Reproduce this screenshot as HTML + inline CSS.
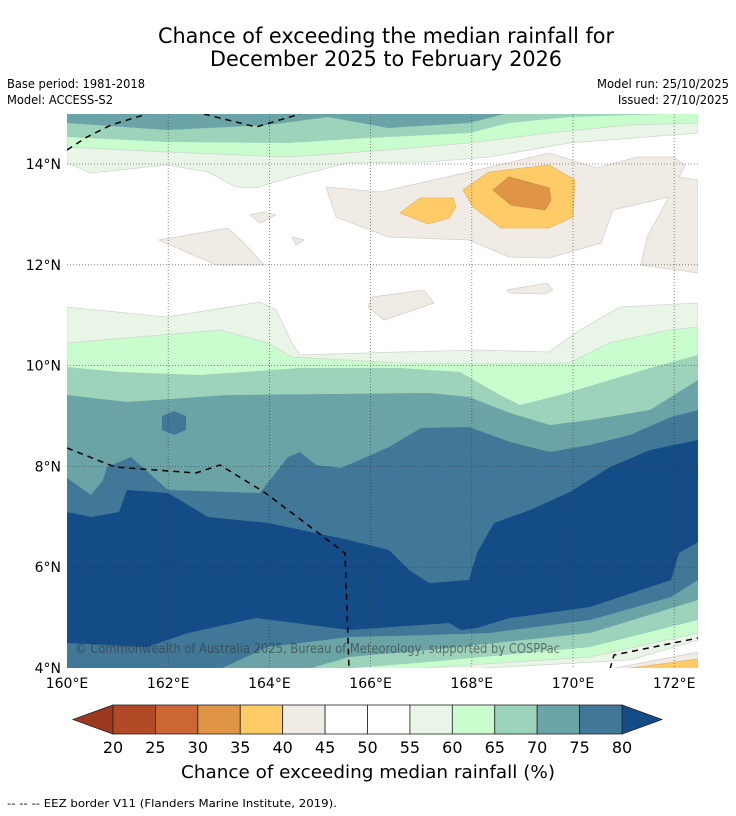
<!DOCTYPE html>
<html><head><meta charset="utf-8">
<style>
html,body{margin:0;padding:0;background:#fff;}
svg{display:block;font-family:"DejaVu Sans","Liberation Sans",sans-serif;}
</style></head>
<body>
<svg id="root" width="736" height="816" viewBox="0 0 736 816" xmlns="http://www.w3.org/2000/svg">
<text x="386" y="43" font-size="21" text-anchor="middle" textLength="456" lengthAdjust="spacingAndGlyphs" fill="#000">Chance of exceeding the median rainfall for</text>
<text x="386" y="66" font-size="21" text-anchor="middle" textLength="352" lengthAdjust="spacingAndGlyphs" fill="#000">December 2025 to February 2026</text>
<text x="7" y="88" font-size="12" textLength="138" lengthAdjust="spacingAndGlyphs">Base period: 1981-2018</text>
<text x="7" y="104" font-size="12" textLength="106" lengthAdjust="spacingAndGlyphs">Model: ACCESS-S2</text>
<text x="729" y="88" font-size="12" text-anchor="end" textLength="132" lengthAdjust="spacingAndGlyphs">Model run: 25/10/2025</text>
<text x="729" y="104" font-size="12" text-anchor="end" textLength="111" lengthAdjust="spacingAndGlyphs">Issued: 27/10/2025</text>
<defs><clipPath id="mapclip"><rect x="67" y="114" width="631" height="554"/></clipPath></defs>
<g id="map" clip-path="url(#mapclip)"></g>
<g id="axes"></g>
<g id="cbar"></g>
<text x="368" y="778" font-size="18" text-anchor="middle" textLength="374" lengthAdjust="spacingAndGlyphs">Chance of exceeding median rainfall (%)</text>
<text x="7" y="807" font-size="11" textLength="330" lengthAdjust="spacingAndGlyphs">--  --  -- EEZ border V11 (Flanders Marine Institute, 2019).</text>
</svg>
<script>
// colour scale data
const levels = [20,25,30,35,40,45,50,55,60,65,70,75,80];
const binColors = ["#b34a27","#cc6633","#e09445","#fecb66","#f0ebe5","#ffffff","#ffffff","#e9f5e7","#c9fdcd","#9dd2bb","#6ba4a6","#417898"];
const underColor = "#9b3a1f";
const overColor = "#134c87";
// axis data
const lonTicks = [160,162,164,166,168,170,172];
const latTicks = [4,6,8,10,12,14];
// contour data (image grid coords)
const top70 = [[67,123],[167,130],[268,125],[328,117],[388,128],[469,123],[509,113]];
const top65 = [[67,137],[167,142],[288,143],[368,138],[469,133],[509,123],[569,117],[698,113]];
const top60 = [[67,147],[167,152],[288,157],[388,150],[469,143],[549,133],[629,125],[698,123]];
const top55 = [[67,163],[91,173],[167,165],[208,172],[236,187],[256,188],[288,178],[348,163],[428,162],[489,157],[569,143],[698,133]];
const up55 = [[67,307],[167,317],[260,302],[276,310],[292,343],[300,355],[400,352],[480,350],[549,352],[580,330],[620,307],[698,303]];
const up60 = [[67,343],[220,330],[268,343],[292,357],[400,363],[480,364],[569,363],[609,343],[669,330],[698,327]];
const up65 = [[67,367],[120,372],[200,375],[300,368],[400,368],[460,372],[500,395],[520,405],[560,395],[610,380],[650,368],[698,355]];
const up70 = [[67,395],[127,402],[228,395],[429,393],[469,397],[510,413],[550,425],[590,420],[650,410],[698,380]];
const up75 = [[67,478],[91,495],[103,480],[107,467],[131,457],[168,490],[260,493],[288,457],[300,452],[316,465],[341,468],[389,447],[421,428],[469,427],[510,442],[550,452],[590,445],[630,435],[671,417],[698,410]];
const up80 = [[67,512],[91,517],[119,512],[127,490],[168,493],[208,517],[268,523],[349,540],[389,550],[409,570],[429,583],[469,580],[477,553],[494,523],[530,510],[570,492],[610,467],[650,450],[698,440]];
const dn80 = [[67,643],[147,647],[188,633],[256,618],[349,630],[449,623],[461,630],[477,628],[510,618],[590,607],[671,580],[679,553],[698,542]];
const dn75 = [[220,669],[268,647],[349,637],[429,635],[489,633],[590,620],[671,597],[698,580]];
const dn70 = [[308,669],[349,657],[429,650],[590,633],[698,600]];
const dn65 = [[341,669],[429,662],[590,647],[698,620]];
const dn60 = [[409,669],[590,657],[698,633]];
const dn55 = [[469,669],[630,660],[698,640]];
const blob75 = [[162,416],[174,411],[186,416],[186,430],[174,435],[162,430]];
const beigeBig = [[326,187],[380,192],[469,172],[549,153],[597,168],[637,157],[673,157],[685,165],[679,177],[698,180],[698,273],[641,265],[647,237],[669,197],[613,210],[601,243],[549,258],[509,257],[469,240],[388,237],[336,217]];
const beigeSmall = [
 [[159,240],[228,228],[244,243],[264,265],[216,265]],
 [[250,215],[264,212],[276,215],[260,223]],
 [[292,237],[304,240],[296,245]],
 [[372,297],[424,290],[434,303],[384,320],[368,307]],
 [[507,290],[547,283],[553,290],[545,294],[509,293]],
 [[610,669],[698,652],[698,669]]
];
const orange35 = [
 [[400,213],[420,198],[453,198],[456,207],[449,218],[428,224]],
 [[463,190],[489,172],[549,165],[575,180],[573,217],[549,228],[501,228],[473,207]],
 [[623,669],[698,659],[698,669]]
];
const orange30 = [[493,190],[509,177],[549,188],[551,200],[545,210],[511,205]];
const eezLines = [
 [[67,150],[87,137],[111,125],[147,114]],
 [[204,114],[256,127],[300,114]],
 [[67,448],[115,467],[196,473],[220,465],[264,492],[345,553],[349,669]],
 [[610,669],[614,655],[698,638]]
];

const NS="http://www.w3.org/2000/svg";
const map=document.getElementById('map');
const axes=document.getElementById('axes');
const cbar=document.getElementById('cbar');
// axis functions
const xLon = lon => 67 + (lon-160)*50.6;
const yLat = lat => 668 - (lat-4)*50.4;
function colorFor(level){ return binColors[levels.indexOf(level)]; }
function pts(a){ return a.map(p=>p[0]+','+p[1]).join(' '); }
function poly(points, fill, name, stroke){
  const p=document.createElementNS(NS,'polygon');
  p.setAttribute('points', pts(points));
  p.setAttribute('fill', fill);
  if(stroke){p.setAttribute('stroke',stroke);p.setAttribute('stroke-width','0.8');}
  
  
  map.appendChild(p);
}
// background
poly([[67,114],[698,114],[698,669],[67,669]], '#ffffff', 'map-background');
const tops = {55:top55,60:top60,65:top65,70:top70};
const ups = {55:up55,60:up60,65:up65,70:up70,75:up75,80:up80};
const dns = {55:dn55,60:dn60,65:dn65,70:dn70,75:dn75,80:dn80};
[55,60,65,70,75,80].forEach(L=>{
  const col = L===80 ? overColor : colorFor(L);
  if(tops[L]) poly(tops[L].concat([[698,113],[67,113]]), col, 'contour-top-'+L, L<=60?'#cfd8cf':null);
  const lower = dns[L].slice().reverse();
  const extra = lower[lower.length-1][0] > 67 ? [[67,669]] : [];
  const first = dns[L][dns[L].length-1][0] >= 698 ? [] : [[698,669]];
  poly(ups[L].concat(first, lower, extra), col, 'contour-band-'+L, L<=60?'#cfd8cf':null);
  if(L===75) poly(blob75, col, 'contour-blob-75');
});
poly(beigeBig, colorFor(40), 'below-normal-area-40', '#d6d0ca');
beigeSmall.forEach((b,i)=>poly(b, colorFor(40), 'below-normal-patch-'+i, '#d6d0ca'));
orange35.forEach((b,i)=>poly(b, colorFor(35), 'below-normal-35-'+i, '#e8b860'));
poly(orange30, colorFor(30), 'below-normal-30', '#d08a40');
// EEZ dashed lines
eezLines.forEach((l,i)=>{
  const pl=document.createElementNS(NS,'polyline');
  pl.setAttribute('points',pts(l));pl.setAttribute('fill','none');
  pl.setAttribute('stroke','#000');pl.setAttribute('stroke-width','1.5');pl.setAttribute('stroke-dasharray','6,5');
  
  
  map.appendChild(pl);
});
// grid lines
lonTicks.forEach(l=>{
  if(l===160) return;
  const ln=document.createElementNS(NS,'line');
  ln.setAttribute('x1',xLon(l));ln.setAttribute('x2',xLon(l));ln.setAttribute('y1',114);ln.setAttribute('y2',668);
  ln.setAttribute('stroke','#333');ln.setAttribute('stroke-width','0.8');ln.setAttribute('stroke-dasharray','1,2');ln.setAttribute('opacity','0.7');
  
  
  map.appendChild(ln);
});
latTicks.forEach(l=>{
  if(l===4) return;
  const ln=document.createElementNS(NS,'line');
  ln.setAttribute('y1',yLat(l));ln.setAttribute('y2',yLat(l));ln.setAttribute('x1',67);ln.setAttribute('x2',698);
  ln.setAttribute('stroke','#333');ln.setAttribute('stroke-width','0.8');ln.setAttribute('stroke-dasharray','1,2');ln.setAttribute('opacity','0.7');
  
  
  map.appendChild(ln);
});
// watermark
const wm=document.createElementNS(NS,'text');
wm.setAttribute('x',75);wm.setAttribute('y',653);wm.setAttribute('font-size','13');wm.setAttribute('fill','#333');wm.setAttribute('opacity','0.6');
wm.setAttribute('textLength','485');wm.setAttribute('lengthAdjust','spacingAndGlyphs');
wm.textContent='© Commonwealth of Australia 2025, Bureau of Meteorology, supported by COSPPac';


map.appendChild(wm);
// tick labels
lonTicks.forEach(l=>{
  const t=document.createElementNS(NS,'text');
  t.setAttribute('x',xLon(l));t.setAttribute('y',688);t.setAttribute('font-size','14');t.setAttribute('text-anchor','middle');
  t.textContent=l+'°E';
  
  
  axes.appendChild(t);
});
latTicks.forEach(l=>{
  const t=document.createElementNS(NS,'text');
  t.setAttribute('x',61);t.setAttribute('y',yLat(l)+5);t.setAttribute('font-size','14');t.setAttribute('text-anchor','end');
  t.textContent=l+'°N';
  
  
  axes.appendChild(t);
});
// colorbar
const cbX0=113, cbX1=622, cbY=705, cbH=29;
const cx = v => cbX0 + (v-levels[0])/(levels[levels.length-1]-levels[0])*(cbX1-cbX0);
function cpoly(points, fill, name){
  const p=document.createElementNS(NS,'polygon');
  p.setAttribute('points',pts(points));p.setAttribute('fill',fill);p.setAttribute('stroke','#222');p.setAttribute('stroke-width','0.8');
  
  
  cbar.appendChild(p);
}
cpoly([[cbX0,cbY],[cbX0,cbY+cbH],[73,cbY+cbH/2]], underColor, 'colorbar-under-arrow');
cpoly([[cbX1,cbY],[cbX1,cbY+cbH],[662,cbY+cbH/2]], overColor, 'colorbar-over-arrow');
binColors.forEach((c,i)=>{
  const r=document.createElementNS(NS,'rect');
  r.setAttribute('x',cx(levels[i]));r.setAttribute('y',cbY);r.setAttribute('width',cx(levels[i+1])-cx(levels[i]));r.setAttribute('height',cbH);
  r.setAttribute('fill',c);r.setAttribute('stroke','#222');r.setAttribute('stroke-width','0.8');
  
  
  cbar.appendChild(r);
});
levels.forEach(v=>{
  const t=document.createElementNS(NS,'text');
  t.setAttribute('x',cx(v));t.setAttribute('y',753);t.setAttribute('font-size','16');t.setAttribute('text-anchor','middle');
  t.textContent=v;
  
  
  cbar.appendChild(t);
});
</script>
</body></html>
